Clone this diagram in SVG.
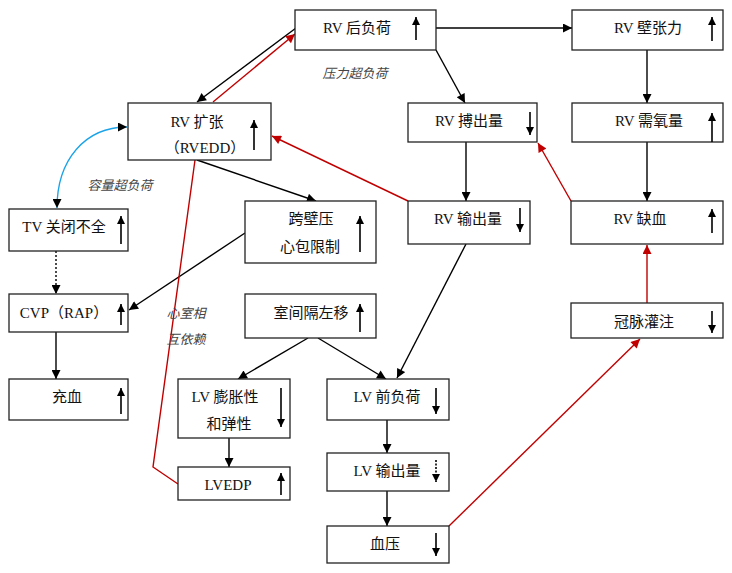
<svg xmlns="http://www.w3.org/2000/svg" width="732" height="573" viewBox="0 0 732 573">
<style>
.box{fill:#fff;stroke:#222;stroke-width:1.3}
.t{font-family:"Liberation Serif","Noto Sans CJK SC",serif;font-size:15px;fill:#111;text-anchor:middle}
.lbl{font-family:"Liberation Serif","Noto Sans CJK SC",serif;font-size:13px;font-style:italic;fill:#444;text-anchor:middle}
.ia{stroke:#000;stroke-width:1.6;marker-end:url(#ai)}
.c{stroke:#000;stroke-width:1.4;fill:none;marker-end:url(#ab)}
.r{stroke:#c00000;stroke-width:1.4;fill:none;marker-end:url(#ar)}
</style>
<defs>
<marker id="ab" viewBox="0 0 10 10" refX="10" refY="5" markerWidth="11" markerHeight="9" markerUnits="userSpaceOnUse" orient="auto-start-reverse"><path d="M0,0 L10,5 L0,10 z" fill="#000"/></marker>
<marker id="ar" viewBox="0 0 10 10" refX="10" refY="5" markerWidth="11" markerHeight="9" markerUnits="userSpaceOnUse" orient="auto"><path d="M0,0 L10,5 L0,10 z" fill="#c00000"/></marker>
<marker id="ai" viewBox="0 0 10 10" refX="10" refY="5" markerWidth="9" markerHeight="8" markerUnits="userSpaceOnUse" orient="auto"><path d="M0,0 L10,5 L0,10 z" fill="#000"/></marker>
</defs>
<rect width="732" height="573" fill="#fff"/>
<g id="connectors">
<line class="c" x1="296" y1="28" x2="197" y2="102"/>
<line class="r" x1="213" y1="102" x2="295" y2="34"/>
<line class="c" x1="436" y1="28" x2="572" y2="28"/>
<line class="c" x1="436" y1="50" x2="465" y2="103"/>
<line class="c" x1="647" y1="50" x2="647" y2="103"/>
<line class="c" x1="647" y1="142" x2="647" y2="201"/>
<line class="c" x1="466" y1="142" x2="466" y2="201"/>
<line class="r" x1="408" y1="201" x2="272" y2="136"/>
<line class="r" x1="571" y1="201" x2="538" y2="143"/>
<line class="r" x1="647" y1="303" x2="647" y2="245"/>
<line class="r" x1="449" y1="526" x2="640" y2="339"/>
<line class="c" x1="197" y1="160" x2="316" y2="201"/>
<line class="c" x1="245" y1="233" x2="129" y2="310"/>
<path d="M57,208 C57,160 85,127 127,127" stroke="#1aa3e8" stroke-width="1.3" fill="none" marker-start="url(#ab)" marker-end="url(#ab)"/>
<line class="c" x1="56" y1="251" x2="56" y2="294" stroke-dasharray="2,2"/>
<line class="c" x1="56" y1="332" x2="56" y2="379"/>
<line class="c" x1="308" y1="338" x2="238" y2="379"/>
<line class="c" x1="318" y1="338" x2="386" y2="379"/>
<line class="c" x1="466" y1="244" x2="397" y2="378"/>
<line class="c" x1="229" y1="438" x2="229" y2="467"/>
<line class="c" x1="387" y1="420" x2="387" y2="453"/>
<line class="c" x1="387" y1="491" x2="387" y2="526"/>
<polyline points="178,484 153,467 195,160" stroke="#c00000" stroke-width="1.4" fill="none"/>
</g>
<g id="labels">
<text class="lbl" x="355" y="78">压力超负荷</text>
<text class="lbl" x="120" y="190">容量超负荷</text>
<text class="lbl" x="186" y="318">心室相</text>
<text class="lbl" x="186" y="344">互依赖</text>
</g>
<g id="rv-afterload"><rect class="box" x="295" y="10" width="141" height="40"/><text class="t" x="357" y="33">RV 后负荷</text><line class="ia" x1="416" y1="40" x2="416" y2="17"/></g>
<g id="rv-wall"><rect class="box" x="572" y="10" width="151" height="40"/><text class="t" x="648" y="33">RV 壁张力</text><line class="ia" x1="712" y1="41" x2="712" y2="17"/></g>
<g id="rv-sv"><rect class="box" x="408" y="103" width="129" height="39"/><text class="t" x="469" y="126">RV 搏出量</text><line class="ia" x1="530" y1="112" x2="530" y2="135"/></g>
<g id="rv-o2"><rect class="box" x="572" y="103" width="151" height="39"/><text class="t" x="649" y="126">RV 需氧量</text><line class="ia" x1="712" y1="142" x2="712" y2="113"/></g>
<g id="rv-dil"><rect class="box" x="128" y="103" width="143" height="57"/><text class="t" x="197" y="127">RV 扩张</text><text class="t" x="205" y="153">（RVEDD）</text><line class="ia" x1="254" y1="150" x2="254" y2="120"/></g>
<g id="tv"><rect class="box" x="9" y="209" width="119" height="42"/><text class="t" x="64" y="232">TV 关闭不全</text><line class="ia" x1="121" y1="244" x2="121" y2="216"/></g>
<g id="transmural"><rect class="box" x="245" y="201" width="131" height="62"/><text class="t" x="311" y="224">跨壁压</text><text class="t" x="310" y="252">心包限制</text><line class="ia" x1="360" y1="252" x2="360" y2="216"/></g>
<g id="rv-co"><rect class="box" x="408" y="201" width="122" height="43"/><text class="t" x="468" y="224">RV 输出量</text><line class="ia" x1="520" y1="208" x2="520" y2="232"/></g>
<g id="rv-isch"><rect class="box" x="571" y="201" width="152" height="43"/><text class="t" x="640" y="224">RV 缺血</text><line class="ia" x1="712" y1="233" x2="712" y2="209"/></g>
<g id="cvp"><rect class="box" x="9" y="294" width="119" height="38"/><text class="t" x="64" y="318">CVP（RAP）</text><line class="ia" x1="121" y1="325" x2="121" y2="304"/></g>
<g id="septum"><rect class="box" x="245" y="294" width="131" height="44"/><text class="t" x="311" y="318">室间隔左移</text><line class="ia" x1="360" y1="332" x2="360" y2="304"/></g>
<g id="coronary"><rect class="box" x="571" y="303" width="152" height="35"/><text class="t" x="644" y="327">冠脉灌注</text><line class="ia" x1="712" y1="311" x2="712" y2="333"/></g>
<g id="congestion"><rect class="box" x="9" y="379" width="119" height="41"/><text class="t" x="67" y="402">充血</text><line class="ia" x1="121" y1="414" x2="121" y2="388"/></g>
<g id="lv-comp"><rect class="box" x="178" y="379" width="112" height="59"/><text class="t" x="225" y="402">LV 膨胀性</text><text class="t" x="229" y="429">和弹性</text><line class="ia" x1="281" y1="388" x2="281" y2="427"/></g>
<g id="lv-preload"><rect class="box" x="327" y="379" width="122" height="41"/><text class="t" x="387" y="402">LV 前负荷</text><line class="ia" x1="436" y1="388" x2="436" y2="414"/></g>
<g id="lvedp"><rect class="box" x="178" y="467" width="112" height="33"/><text class="t" x="228" y="490">LVEDP</text><line class="ia" x1="281" y1="495" x2="281" y2="473"/></g>
<g id="lv-co"><rect class="box" x="327" y="453" width="122" height="38"/><text class="t" x="387" y="476">LV 输出量</text><line class="ia" x1="436" y1="460" x2="436" y2="482" stroke-dasharray="2,1.5"/></g>
<g id="bp"><rect class="box" x="327" y="526" width="122" height="37"/><text class="t" x="385" y="549">血压</text><line class="ia" x1="436" y1="533" x2="436" y2="556"/></g>
</svg>
